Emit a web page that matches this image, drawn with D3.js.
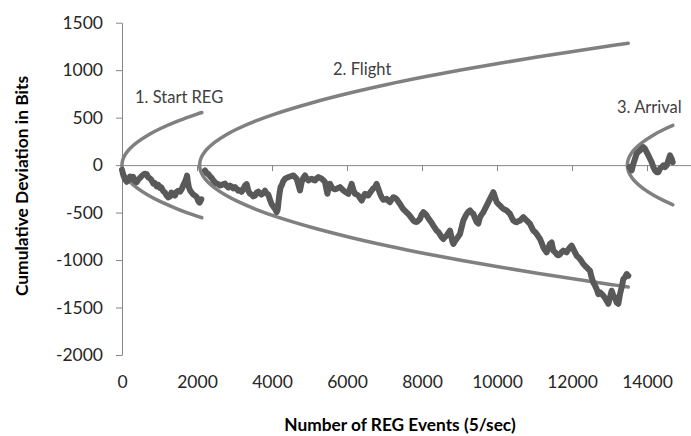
<!DOCTYPE html>
<html>
<head>
<meta charset="utf-8">
<script src="https://cdn.jsdelivr.net/npm/d3@7"></script>
<style>
  html, body { margin: 0; padding: 0; background: #fff; }
  svg { display: block; }
  text { font-family: Lato, "Open Sans", sans-serif; }
</style>
</head>
<body>
<svg id="chart" width="691" height="436"></svg>
<script>
// Axis ticks
const xTicks = [0, 2000, 4000, 6000, 8000, 10000, 12000, 14000];
const yTicks = [-2000, -1500, -1000, -500, 0, 500, 1000, 1500];

// Phase names
const phaseNames = ["1. Start REG", "2. Flight", "3. Arrival"];

// Cumulative deviation per phase: [event number, deviation in bits]
const startREG = [[0,-50],[35,-105],[80,-150],[125,-175],[170,-160],[215,-120],[258,-140],[300,-125],[340,-165],[392,-180],[440,-150],[480,-135],[525,-115],[570,-100],[604,-90],[658,-95],[700,-130],[747,-140],[790,-160],[835,-195],[880,-190],[925,-225],[970,-210],[1013,-240],[1049,-235],[1100,-275],[1147,-290],[1190,-320],[1235,-340],[1280,-330],[1315,-290],[1360,-300],[1413,-320],[1450,-285],[1500,-270],[1547,-280],[1590,-255],[1635,-210],[1680,-175],[1715,-140],[1735,-110],[1755,-170],[1780,-230],[1820,-270],[1860,-290],[1902,-310],[1945,-320],[1990,-335],[2036,-380],[2071,-395],[2115,-360]];

const flight = [[2213,-56],[2260,-85],[2302,-95],[2350,-120],[2391,-135],[2440,-165],[2480,-180],[2520,-195],[2569,-200],[2610,-215],[2658,-210],[2700,-200],[2747,-195],[2790,-220],[2836,-235],[2880,-215],[2924,-225],[2970,-245],[3013,-232],[3060,-250],[3102,-270],[3150,-265],[3191,-280],[3240,-250],[3280,-215],[3324,-200],[3369,-270],[3410,-300],[3458,-310],[3500,-330],[3547,-320],[3590,-290],[3636,-280],[3680,-300],[3724,-310],[3770,-290],[3813,-270],[3860,-300],[3902,-310],[3950,-370],[3991,-410],[4040,-440],[4080,-460],[4124,-495],[4150,-470],[4175,-380],[4200,-300],[4230,-230],[4258,-214],[4300,-170],[4347,-144],[4391,-135],[4436,-126],[4480,-120],[4520,-115],[4569,-109],[4610,-125],[4658,-144],[4700,-200],[4747,-267],[4770,-220],[4791,-179],[4840,-130],[4880,-109],[4925,-140],[4969,-162],[5015,-150],[5058,-144],[5100,-155],[5147,-162],[5190,-140],[5236,-126],[5280,-135],[5325,-144],[5370,-160],[5413,-179],[5450,-250],[5476,-302],[5510,-240],[5547,-197],[5590,-230],[5636,-249],[5680,-255],[5724,-249],[5770,-240],[5813,-232],[5860,-250],[5902,-267],[5970,-285],[6036,-302],[6080,-250],[6124,-197],[6170,-260],[6213,-302],[6260,-310],[6302,-320],[6350,-350],[6391,-373],[6440,-330],[6480,-302],[6525,-315],[6569,-320],[6615,-290],[6658,-267],[6700,-245],[6747,-232],[6791,-197],[6835,-250],[6880,-300],[6925,-340],[6969,-365],[7013,-360],[7058,-355],[7100,-375],[7147,-390],[7190,-360],[7236,-338],[7280,-345],[7325,-360],[7370,-385],[7413,-410],[7460,-440],[7502,-465],[7545,-480],[7591,-500],[7635,-515],[7680,-535],[7725,-560],[7769,-584],[7815,-595],[7858,-600],[7900,-585],[7947,-566],[7990,-520],[8036,-496],[8080,-510],[8124,-531],[8170,-560],[8213,-584],[8260,-610],[8302,-637],[8350,-665],[8391,-690],[8435,-705],[8480,-730],[8525,-760],[8569,-778],[8615,-755],[8658,-742],[8700,-715],[8747,-690],[8770,-730],[8791,-770],[8815,-810],[8836,-830],[8880,-800],[8924,-778],[8970,-750],[9013,-725],[9060,-650],[9102,-584],[9150,-545],[9191,-514],[9235,-490],[9280,-478],[9325,-500],[9369,-514],[9415,-560],[9458,-600],[9502,-615],[9525,-580],[9547,-549],[9590,-520],[9636,-496],[9680,-460],[9724,-426],[9770,-390],[9813,-355],[9860,-320],[9902,-285],[9925,-310],[9947,-338],[9970,-365],[9991,-390],[10035,-410],[10080,-426],[10125,-445],[10169,-461],[10215,-470],[10258,-478],[10300,-495],[10347,-514],[10390,-550],[10436,-584],[10480,-595],[10524,-602],[10570,-590],[10613,-584],[10660,-565],[10702,-549],[10745,-565],[10791,-584],[10835,-600],[10880,-619],[10925,-655],[10969,-690],[11015,-705],[11058,-725],[11100,-750],[11147,-778],[11190,-820],[11236,-866],[11280,-895],[11324,-919],[11370,-870],[11413,-830],[11458,-815],[11480,-860],[11502,-901],[11545,-915],[11591,-940],[11635,-950],[11680,-940],[11725,-915],[11769,-901],[11815,-910],[11858,-919],[11900,-890],[11947,-866],[11991,-848],[12036,-884],[12080,-920],[12124,-954],[12170,-970],[12213,-989],[12260,-1015],[12302,-1042],[12345,-1060],[12391,-1077],[12435,-1095],[12480,-1112],[12524,-1183],[12569,-1236],[12615,-1270],[12658,-1306],[12702,-1359],[12747,-1341],[12790,-1355],[12836,-1376],[12880,-1400],[12924,-1429],[12969,-1460],[13013,-1394],[13058,-1323],[13102,-1376],[13147,-1394],[13191,-1447],[13236,-1460],[13280,-1359],[13324,-1288],[13369,-1200],[13413,-1183],[13458,-1147],[13502,-1165]];

const arrival = [[13540,-20],[13591,-56],[13636,15],[13680,67],[13724,120],[13770,140],[13813,155],[13860,175],[13902,190],[13947,173],[13991,137],[14036,102],[14080,67],[14124,32],[14169,-21],[14213,-56],[14258,-74],[14302,-74],[14347,-38],[14391,-21],[14436,-3],[14480,-21],[14524,-3],[14569,50],[14613,102],[14658,67],[14685,32]];

// Significance envelope: bound (bits) after a given number of events
const envelopeOffsets = [0, 10, 40, 100, 200, 400, 700, 1000, 1500, 2000, 3000, 4000, 5000, 6000, 7000, 8000, 9000, 10000, 11000];
const envelopeBounds  = [0, 38, 76, 120, 170, 240, 318, 380, 465, 537, 657, 759, 849, 930, 1004, 1073, 1138, 1200, 1259];
// Each phase's envelope: first event, length in events, bound at its end
const phaseStarts = [0, 2070, 13476];
const phaseLengths = [2130, 11430, 1214];
const phaseEndBounds = [554, 1283, 418];

const svg = d3.select("#chart");
const x = d3.scaleLinear().domain([0, 16000]).range([122, 722]);
const y = d3.scaleLinear().domain([-2000, 1500]).range([355, 22.7]);

const axisColor = "#868686";
const plain = d => String(d);

// Y axis
const yAxis = svg.append("g")
  .attr("transform", `translate(${x(0)},0)`)
  .call(d3.axisLeft(y).tickValues(yTicks).tickSizeInner(6).tickSizeOuter(0).tickPadding(13).tickFormat(plain));
yAxis.select(".domain").attr("stroke", axisColor);
yAxis.selectAll(".tick line").attr("stroke", axisColor);
yAxis.selectAll(".tick text").attr("fill", "#262626").style("font-size", "17.5px").style("font-family", "Lato");

// X axis line at zero with tick marks
const xAxis = svg.append("g")
  .attr("transform", `translate(0,${y(0)})`)
  .call(d3.axisBottom(x).tickValues(xTicks).tickSizeInner(6).tickSizeOuter(0).tickFormat(""));
xAxis.select(".domain").attr("stroke", axisColor);
xAxis.selectAll(".tick line").attr("stroke", axisColor);

// X tick labels along the bottom of the plot
const xLabels = svg.append("g")
  .attr("transform", `translate(0,${y(-2000)})`)
  .call(d3.axisBottom(x).tickValues(xTicks).tickSize(0).tickPadding(21).tickFormat(plain));
xLabels.select(".domain").remove();
xLabels.selectAll(".tick text").attr("fill", "#262626").style("font-size", "17.5px").style("font-family", "Lato");

// Envelopes
const envLine = d3.line()
  .x(d => x(d[0]))
  .y(d => y(d[1]))
  .curve(d3.curveCatmullRom.alpha(0.5));

phaseStarts.forEach((s, i) => {
  const L = phaseLengths[i];
  const branch = envelopeOffsets
    .map((o, k) => [o, envelopeBounds[k]])
    .filter(d => d[0] < L);
  branch.push([L, phaseEndBounds[i]]);
  const pts = branch.slice().reverse().map(d => [s + d[0], -d[1]])
    .concat(branch.slice(1).map(d => [s + d[0], d[1]]));
  svg.append("path")
    .attr("d", envLine(pts))
    .attr("fill", "none")
    .attr("stroke", "#808080")
    .attr("stroke-width", 3.5)
    .attr("stroke-linecap", "round");
});

// Cumulative deviation traces
const walkLine = d3.line().x(d => x(d[0])).y(d => y(d[1]));
[startREG, flight, arrival].forEach(series => {
  svg.append("path")
    .attr("d", walkLine(series))
    .attr("fill", "none")
    .attr("stroke", "#595959")
    .attr("stroke-width", 6)
    .attr("stroke-linejoin", "round")
    .attr("stroke-linecap", "round");
});

// Phase labels
const labelPos = [[347, 655], [5627, 945], [13200, 546]];
phaseNames.forEach((name, i) => {
  svg.append("text")
    .attr("x", x(labelPos[i][0]))
    .attr("y", y(labelPos[i][1]))
    .attr("fill", "#404040")
    .style("font-size", "16.5px")
    .text(name);
});

// Axis titles
svg.append("text")
  .attr("transform", `translate(28,186) rotate(-90)`)
  .attr("text-anchor", "middle")
  .style("font-size", "17.4px")
  .style("font-weight", "bold")
  .attr("fill", "#000")
  .text("Cumulative Deviation in Bits");

svg.append("text")
  .attr("x", 400)
  .attr("y", 431)
  .attr("text-anchor", "middle")
  .style("font-size", "17.3px")
  .style("font-weight", "bold")
  .attr("fill", "#000")
  .text("Number of REG Events (5/sec)");
</script>
</body>
</html>
